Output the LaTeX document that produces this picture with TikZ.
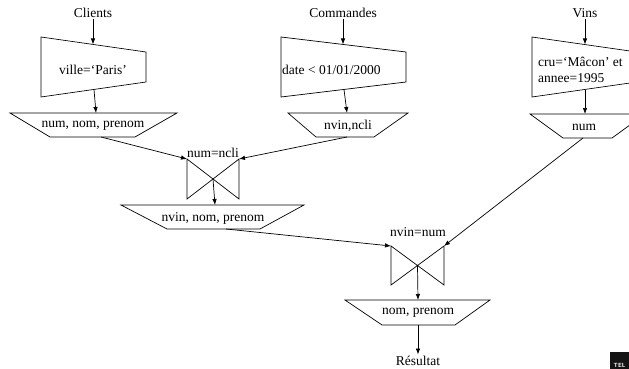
\documentclass[tikz,border=0pt]{standalone}
\usepackage{fontspec}
\setmainfont{Liberation Serif}
\usetikzlibrary{arrows.meta}

\begin{document}
\begin{tikzpicture}[x=1pt,y=-1pt,
  lbl/.style={font=\fontsize{13.5}{16}\selectfont, inner sep=1.5pt},
  op/.style={draw, line width=0.7pt, line join=miter},
  flow/.style={-{Latex[length=6pt,width=4.5pt]}, line width=0.7pt}]

\useasboundingbox (0,0) rectangle (629,369);
\clip (0,0) rectangle (629,369);

% ---------- Clients branch ----------
\node[lbl] (clients) at (93,13) {Clients};
\draw[op] (41,37) -- (146,52) -- (146,82) -- (41,97) -- cycle;
\node[lbl] (sel1) at (93,70) {ville=‘Paris’};
\coordinate (sel1in)  at (93,44.5);
\coordinate (sel1out) at (94,89.5);
\draw[op] (10,113) -- (177,113) -- (135,137) -- (50,137) -- cycle;
\node[lbl] (proj1) at (93,126) {num, nom, prenom};
\coordinate (proj1in)  at (96,113);
\coordinate (proj1out) at (101,137);

% ---------- Commandes branch ----------
\node[lbl] (commandes) at (343,13) {Commandes};
\draw[op] (281,37) -- (406,52) -- (406,82) -- (281,97) -- cycle;
\node[lbl, anchor=west, inner sep=0pt] (sel2) at (282,70) {date < 01/01/2000};
\coordinate (sel2in)  at (343,44.5);
\coordinate (sel2out) at (344,89.5);
\draw[op] (288,113) -- (408,113) -- (374,137) -- (316,137) -- cycle;
\node[lbl] (proj2) at (348,126) {nvin,ncli};
\coordinate (proj2in)  at (347,113);
\coordinate (proj2out) at (347,137);

% ---------- Vins branch ----------
\node[lbl] (vins) at (585,13) {Vins};
\draw[op] (532,37) -- (637,52) -- (637,82) -- (532,97) -- cycle;
\node[lbl, anchor=west, align=left, inner sep=0pt] (sel3) at (538,70)
  {cru=‘Mâcon’ et\\annee=1995};
\coordinate (sel3in)  at (585,44.5);
\coordinate (sel3out) at (585,89.5);
\draw[op] (530,114) -- (645,114) -- (612,138) -- (563,138) -- cycle;
\node[lbl] (proj4) at (584,127) {num};
\coordinate (proj4in)  at (585,114);
\coordinate (proj4out) at (583,138);

% ---------- first join ----------
\draw[op] (187,159) -- (187,199) -- (239,159) -- (239,199) -- cycle;
\node[lbl] (join1) at (213,153) {num=ncli};
\coordinate (j1left)  at (187,159);
\coordinate (j1right) at (239,159);
\coordinate (j1mid)   at (213,179);
\draw[op] (121,205) -- (304,205) -- (260,229) -- (167,229) -- cycle;
\node[lbl] (proj3) at (213,218) {nvin, nom, prenom};
\coordinate (proj3in)  at (215,205);
\coordinate (proj3out) at (226,229);

% ---------- second join ----------
\draw[op] (391,246) -- (391,285) -- (444,246) -- (444,285) -- cycle;
\node[lbl] (join2) at (418,232) {nvin=num};
\coordinate (j2left)  at (391,246);
\coordinate (j2right) at (444,246);
\coordinate (j2mid)   at (417.5,265.5);
\draw[op] (345,300) -- (490,300) -- (455,325) -- (382,325) -- cycle;
\node[lbl] (proj5) at (418,313) {nom, prenom};
\coordinate (proj5in)  at (418,300);
\coordinate (proj5out) at (418,325);
\node[lbl] (result) at (418,361) {Résultat};

% ---------- data flow ----------
\draw[flow] (clients) -- (sel1in);
\draw[flow] (sel1out) -- (proj1in);
\draw[flow] (commandes) -- (sel2in);
\draw[flow] (sel2out) -- (proj2in);
\draw[flow] (vins) -- (sel3in);
\draw[flow] (sel3out) -- (proj4in);
\draw[flow] (proj1out) -- (j1left);
\draw[flow] (proj2out) -- (j1right);
\draw[flow] (j1mid) -- (proj3in);
\draw[flow] (proj3out) -- (j2left);
\draw[flow] (proj4out) -- (j2right);
\draw[flow] (j2mid) -- (proj5in);
\draw[flow] (proj5out) -- (result);

% ---------- corner logo ----------
\fill[black!92] (610,352) rectangle (629,369);
\node[text=white, font=\fontsize{6}{6}\sffamily\bfseries, inner sep=0pt, anchor=south] (logo) at (619.5,367.5) {TEL};
\end{tikzpicture}
\end{document}
